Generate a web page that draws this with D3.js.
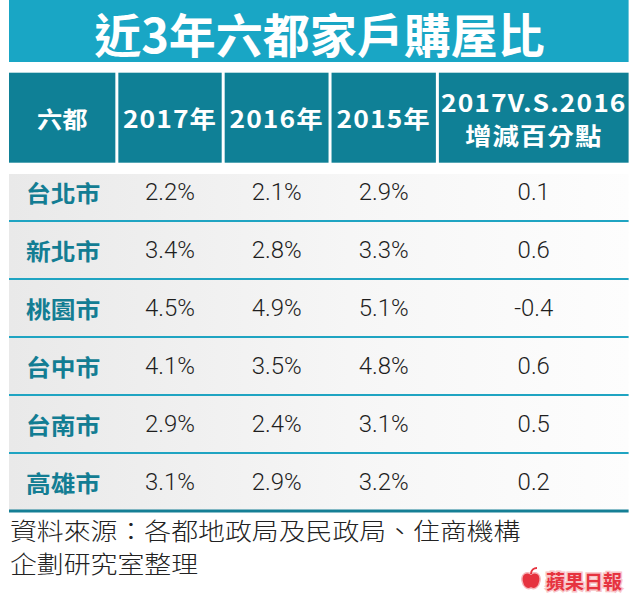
<!DOCTYPE html>
<html>
<head>
<meta charset="utf-8">
<script src="https://cdn.jsdelivr.net/npm/d3@7"></script>
<style>
  html, body { margin: 0; padding: 0; background: #fff; }
  svg { display: block; }
</style>
</head>
<body>
<div id="chart"></div>
<script>
"use strict";

// table data
var cities = ["台北市", "新北市", "桃園市", "台中市", "台南市", "高雄市"];
var share2017 = [2.2, 3.4, 4.5, 4.1, 2.9, 3.1];
var share2016 = [2.1, 2.8, 4.9, 3.5, 2.4, 2.9];
var share2015 = [2.9, 3.3, 5.1, 4.8, 3.1, 3.2];
var diffPoints = [0.1, 0.6, -0.4, 0.6, 0.5, 0.2];
var headers = [["六都"], ["2017年"], ["2016年"], ["2015年"], ["2017V.S.2016", "增減百分點"]];
var title = "近3年六都家戶購屋比";
var sourceLines = ["資料來源：各都地政局及民政局、住商機構", "企劃研究室整理"];
var brand = "蘋果日報";

var width = 640, height = 610;
var left = 9, right = 628.6;
var colUnits = [106.5, 103.5, 104, 104.5, 190];
var gap = 3;
var fontCJK = "'Noto Sans CJK TC', 'Noto Sans CJK SC', sans-serif";

var svg = d3.select("#chart").append("svg")
    .attr("width", width)
    .attr("height", height);

var defs = svg.append("defs");
var grad = defs.append("linearGradient")
    .attr("id", "rowFill")
    .attr("x1", "0%").attr("x2", "100%")
    .attr("y1", "0%").attr("y2", "0%");
grad.append("stop").attr("offset", "0%").attr("stop-color", "#e9e9e9");
grad.append("stop").attr("offset", "55%").attr("stop-color", "#f6f6f6");
grad.append("stop").attr("offset", "100%").attr("stop-color", "#fdfdfd");

// column scale: cumulative units -> pixels
var totalUnits = d3.sum(colUnits);
var colX = d3.scaleLinear()
    .domain([0, totalUnits])
    .range([left, right - gap * (colUnits.length - 1)]);
var ends = Array.from(d3.cumsum(colUnits));
var cols = colUnits.map(function (u, i) {
    var x0 = colX(ends[i] - u) + gap * i;
    var x1 = colX(ends[i]) + gap * i;
    return { x0: x0, x1: x1, cx: (x0 + x1) / 2 };
});

var rowY = d3.scaleBand()
    .domain(cities)
    .range([163, 511]);

function stretchedText(sel, x, y, sx) {
    return sel.attr("transform", "translate(" + x + "," + y + ") scale(" + sx + ",1)")
        .attr("text-anchor", "middle")
        .attr("dominant-baseline", "central");
}

// title band
svg.append("rect")
    .attr("x", left).attr("y", 0)
    .attr("width", right - left).attr("height", 62)
    .attr("fill", "#19a6c5");

stretchedText(svg.append("text"), 319.5, 32, 1.0)
    .attr("font-family", fontCJK)
    .attr("font-weight", 700)
    .attr("font-size", 47)
    .attr("fill", "#fff")
    .text(title);

// header cells
var head = svg.append("g").attr("class", "header");
head.selectAll("rect")
    .data(cols)
    .enter().append("rect")
    .attr("x", function (d) { return d.x0; })
    .attr("y", 72.7)
    .attr("width", function (d) { return d.x1 - d.x0; })
    .attr("height", 90)
    .attr("fill", "#0f8096");

headers.forEach(function (lines, i) {
    lines.forEach(function (line, j) {
        var y = lines.length === 1 ? 118 : (j === 0 ? 102 : 135);
        stretchedText(head.append("text"), cols[i].cx, y, 1.1)
            .attr("font-family", fontCJK)
            .attr("font-weight", 700)
            .attr("font-size", i === 0 ? 23 : 24)
            .attr("letter-spacing", i === 0 ? 0 : 1)
            .attr("fill", "#fff")
            .text(line);
    });
});

// body rows
var body = svg.append("g").attr("class", "body");
var rows = body.selectAll("g.row")
    .data(cities)
    .enter().append("g")
    .attr("class", "row");

rows.append("rect")
    .attr("x", left)
    .attr("y", function (d, i) { return i === 0 ? 174 : rowY(d) + 1; })
    .attr("width", right - left)
    .attr("height", function (d, i) {
        return i === 0 ? rowY(d) + rowY.bandwidth() - 174 : rowY.bandwidth() - 1;
    })
    .attr("fill", "url(#rowFill)");

rows.append("rect")
    .attr("x", left)
    .attr("y", function (d, i) { return rowY(d) + rowY.bandwidth() - (i === cities.length - 1 ? 1.5 : 1); })
    .attr("width", right - left)
    .attr("height", function (d, i) { return i === cities.length - 1 ? 3 : 2.2; })
    .attr("fill", function (d, i) { return i === cities.length - 1 ? "#157f95" : "#1fa4c2"; });

rows.each(function (d) {
    var g = d3.select(this);
    var cy = rowY(d) + rowY.bandwidth() / 2;
    stretchedText(g.append("text"), cols[0].cx + 1, cy, 1.1)
        .attr("font-family", fontCJK)
        .attr("font-weight", 700)
        .attr("font-size", 22.5)
        .attr("fill", "#137d93")
        .text(d);
});

var pct = function (v) { return d3.format(".1f")(v) + "%"; };
var plain = d3.formatLocale({ decimal: ".", thousands: ",", grouping: [3], currency: ["", ""], minus: "-" }).format(".1f");

var valueCols = [
    { values: share2017, fmt: pct },
    { values: share2016, fmt: pct },
    { values: share2015, fmt: pct },
    { values: diffPoints, fmt: plain }
];

valueCols.forEach(function (vc, k) {
    body.append("g").selectAll("text")
        .data(vc.values)
        .enter().append("text")
        .each(function (v, i) {
            stretchedText(d3.select(this), cols[k + 1].cx, rowY(cities[i]) + rowY.bandwidth() / 2, 1.04);
        })
        .attr("font-family", "Roboto, 'Noto Sans', sans-serif")
        .attr("font-weight", 300)
        .attr("font-size", 23)
        .attr("fill", "#1e1e1e")
        .text(function (v) { return vc.fmt(v); });
});

// source note
sourceLines.forEach(function (line, i) {
    svg.append("text")
        .attr("transform", "translate(10," + (i === 0 ? 529 : 562) + ") scale(1.12,1)")
        .attr("dominant-baseline", "central")
        .attr("font-family", fontCJK)
        .attr("font-weight", 300)
        .attr("font-size", 24)
        .attr("fill", "#222")
        .text(line);
});

// brand mark
var logo = svg.append("g").attr("class", "brand");
logo.append("path")
    .attr("d", "M531,574 C526,571 521,574 522,581 C523,587 527,590 531,588 C535,590 539,587 540,581 C541,574 536,571 531,574 Z")
    .attr("fill", "#e6333f")
    .attr("stroke", "#f6b7bb")
    .attr("stroke-width", 1.5);
logo.append("path")
    .attr("d", "M531,574 C531,570 534,568 537,568")
    .attr("fill", "none")
    .attr("stroke", "#e6333f")
    .attr("stroke-width", 2);
logo.append("text")
    .attr("x", 584).attr("y", 580)
    .attr("text-anchor", "middle")
    .attr("dominant-baseline", "central")
    .attr("font-family", fontCJK)
    .attr("font-weight", 700)
    .attr("font-size", 19)
    .attr("fill", "#e6333f")
    .attr("stroke", "#f8c4c7")
    .attr("stroke-width", 3)
    .attr("paint-order", "stroke")
    .text(brand);
</script>
</body>
</html>
